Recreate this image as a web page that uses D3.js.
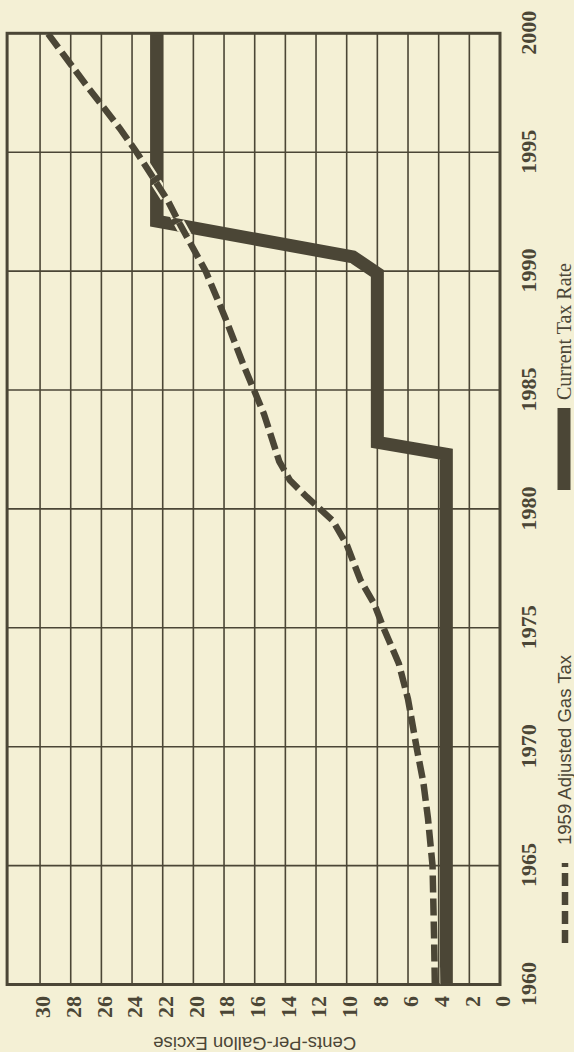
<!DOCTYPE html>
<html><head><meta charset="utf-8">
<script src="https://cdn.jsdelivr.net/npm/d3@7"></script>
<style>html,body{margin:0;padding:0;background:#f4f0d5;} svg{display:block}</style>
</head><body>
<script>
// ---- data ----
const yearTicks = [1960, 1965, 1970, 1975, 1980, 1985, 1990, 1995, 2000];
const centTicks = [0, 2, 4, 6, 8, 10, 12, 14, 16, 18, 20, 22, 24, 26, 28, 30];
const currentYears = [1960, 1982.3, 1982.8, 1989.9, 1990.6, 1992.1, 2000];
const currentCents = [3.5, 3.5, 8.0, 8.0, 9.6, 22.4, 22.4];
const adjustedYears = [1960, 1962, 1965, 1967, 1968.5, 1970, 1972, 1973.5, 1975, 1976, 1977, 1978.5, 1979.5, 1980.5, 1981.2, 1982, 1984, 1986, 1988, 1990, 1992, 1993, 1995, 1996, 1998, 2000];
const adjustedCents = [4.25, 4.3, 4.4, 4.7, 5.0, 5.45, 6.0, 6.6, 7.6, 8.2, 9.1, 10.0, 10.9, 12.6, 13.7, 14.4, 15.4, 16.7, 17.9, 19.2, 20.9, 21.7, 23.7, 24.8, 27.2, 29.5];
const seriesNames = ["1959 Adjusted Gas Tax", "Current Tax Rate"];
const axisTitle = "Cents-Per-Gallon Excise";

// ---- layout ----
const W = 574, H = 1052;
const bg = "#f4f0d5", ink = "#4b4636";
const serif = "'Liberation Serif','DejaVu Serif',serif";
const sans = "'Liberation Sans',Arial,sans-serif";

const svg = d3.select("body").append("svg").attr("width", W).attr("height", H);
svg.append("rect").attr("width", W).attr("height", H).attr("fill", bg);

// chart is drawn in its natural orientation, then turned a quarter turn counter-clockwise
const g = svg.append("g").attr("transform", `translate(0,${H}) rotate(-90)`);

const x = d3.scaleLinear().domain([1960, 2000]).range([67.5, 1018.7]);
const y = d3.scaleLinear().domain([0, 32]).range([500, 9.4]);
const yMax = 32.15;

// grid
g.append("g").selectAll("line").data(yearTicks.slice(1, -1)).join("line")
  .attr("x1", d => x(d)).attr("x2", d => x(d))
  .attr("y1", y(0)).attr("y2", y(yMax))
  .attr("stroke", ink).attr("stroke-width", 1.6);
g.append("g").selectAll("line").data(centTicks.filter(d => d > 0)).join("line")
  .attr("x1", x(1960)).attr("x2", x(2000))
  .attr("y1", d => y(d)).attr("y2", d => y(d))
  .attr("stroke", ink).attr("stroke-width", 1.6);

// frame
g.append("rect")
  .attr("x", x(1960)).attr("y", y(yMax))
  .attr("width", x(2000) - x(1960)).attr("height", y(0) - y(yMax))
  .attr("fill", "none").attr("stroke", ink).attr("stroke-width", 3);

// lines
const line = d3.line().x(d => x(d[0])).y(d => y(d[1]));
const cur = currentYears.map((d, i) => [d, currentCents[i]]);
const adj = adjustedYears.map((d, i) => [d, adjustedCents[i]]);
const curD = line(cur), adjD = line(adj);

const defs = svg.append("defs");
defs.append("mask").attr("id", "solidMask").attr("maskUnits", "userSpaceOnUse")
  .attr("x", -2000).attr("y", -2000).attr("width", 4000).attr("height", 4000)
  .append("path").attr("d", curD).attr("fill", "none")
  .attr("stroke", "white").attr("stroke-width", 13).attr("stroke-linejoin", "miter");

g.append("path").attr("d", curD).attr("fill", "none")
  .attr("stroke", ink).attr("stroke-width", 13)
  .attr("stroke-linejoin", "miter").attr("stroke-linecap", "butt");

g.append("path").attr("d", adjD).attr("fill", "none")
  .attr("stroke", bg).attr("stroke-width", 11)
  .attr("stroke-dasharray", "17,6").attr("mask", "url(#solidMask)");

g.append("path").attr("d", adjD).attr("fill", "none")
  .attr("stroke", ink).attr("stroke-width", 6.5)
  .attr("stroke-dasharray", "17,6").attr("stroke-linecap", "butt");

// axes
const xAxis = g.append("g").attr("transform", `translate(0,${y(0)})`)
  .call(d3.axisBottom(x).tickValues(yearTicks).tickSize(0).tickFormat(d3.format("d")));
xAxis.select(".domain").remove();
xAxis.attr("font-family", serif).attr("font-size", 22).attr("font-weight", "bold");
xAxis.selectAll("text").attr("y", 36).attr("dy", null).attr("fill", ink);

const yAxis = g.append("g").attr("transform", `translate(${x(1960)},0)`)
  .call(d3.axisLeft(y).tickValues(centTicks).tickSize(0).tickPadding(11.5));
yAxis.select(".domain").remove();
yAxis.attr("font-family", serif).attr("font-size", 22).attr("font-weight", "bold");
yAxis.selectAll("text").attr("dy", "0.45em").attr("fill", ink);

// axis title
g.append("text")
  .attr("transform", `translate(15,${y(16)}) rotate(-90)`)
  .attr("text-anchor", "middle")
  .attr("font-family", sans).attr("font-size", 17.5).attr("fill", ink)
  .attr("textLength", 203).attr("lengthAdjust", "spacingAndGlyphs")
  .text(axisTitle);

// legend
const lg = g.append("g");
lg.append("line").attr("x1", 109).attr("x2", 189).attr("y1", 565).attr("y2", 565)
  .attr("stroke", ink).attr("stroke-width", 6.5).attr("stroke-dasharray", "13,6");
lg.append("text").attr("x", 207).attr("y", 571)
  .attr("font-family", sans).attr("font-size", 18).attr("fill", ink)
  .attr("textLength", 190).attr("lengthAdjust", "spacingAndGlyphs")
  .text(seriesNames[0]);
lg.append("line").attr("x1", 562).attr("x2", 644).attr("y1", 564).attr("y2", 564)
  .attr("stroke", ink).attr("stroke-width", 13);
lg.append("text").attr("x", 652).attr("y", 571)
  .attr("font-family", serif).attr("font-size", 20).attr("fill", ink)
  .attr("textLength", 137).attr("lengthAdjust", "spacingAndGlyphs")
  .text(seriesNames[1]);
</script>
</body></html>
